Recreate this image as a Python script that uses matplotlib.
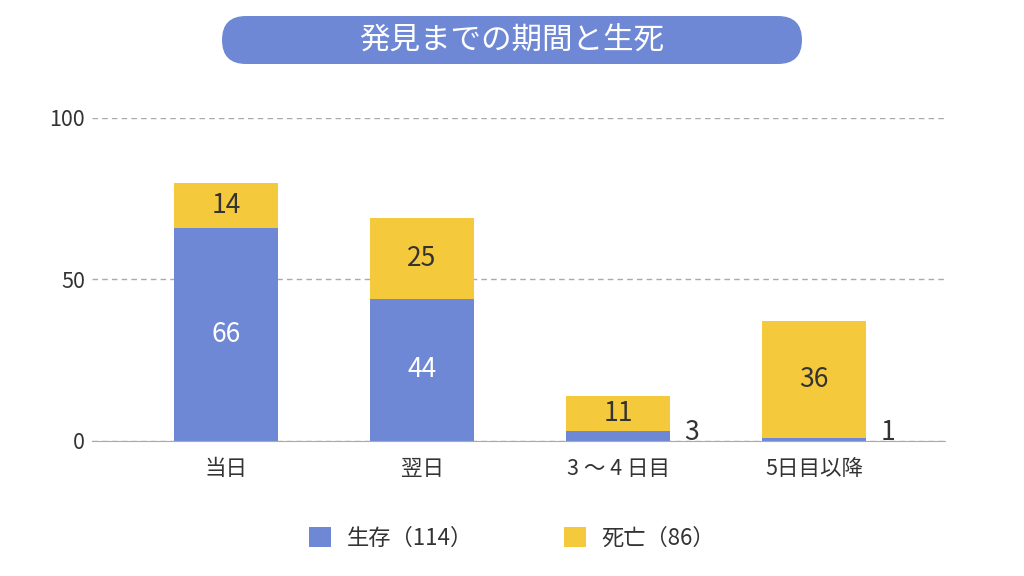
import matplotlib.pyplot as plt
from matplotlib.patches import FancyBboxPatch

plt.rcParams['font.family'] = ['Noto Sans CJK JP', 'DejaVu Sans']

# データ
categories = ['当日', '翌日', '3 ～ 4 日目', '5日目以降']
alive = [66, 44, 3, 1]
dead = [14, 25, 11, 36]
legend_labels = ['生存（114）', '死亡（86）']
title = '発見までの期間と生死'

blue = '#6f88d6'
yellow = '#f5c93c'
text_c = '#333333'

fig = plt.figure(figsize=(10.24, 5.76), dpi=100)

# 背景用（ピクセル座標）
bg = fig.add_axes([0, 0, 1, 1], zorder=0)
bg.set_xlim(0, 1024)
bg.set_ylim(576, 0)
bg.axis('off')
pill = FancyBboxPatch((222, 16), 580, 48, boxstyle='round,pad=0,rounding_size=24',
                      facecolor=blue, edgecolor='none')
bg.add_patch(pill)
bg.text(512, 41, title, ha='center', va='center', color='white', fontsize=22)

ax = fig.add_axes([0.0898, 0.2344, 0.8330, 0.5608], zorder=1)
ax.patch.set_alpha(0)

x = range(len(categories))
b1 = ax.bar(x, alive, width=0.53, color=blue, label=legend_labels[0], zorder=3)
b2 = ax.bar(x, dead, width=0.53, bottom=alive, color=yellow, label=legend_labels[1], zorder=3)

# 値ラベル
for i in x:
    a, d = alive[i], dead[i]
    if a >= 10:
        ax.text(i, a / 2, str(a), ha='center', va='center', color='white', fontsize=19, zorder=4)
    else:
        ax.text(i + 0.34, 0.4, str(a), ha='left', va='baseline', color=text_c, fontsize=19, zorder=4)
    ax.text(i, a + d / 2, str(d), ha='center', va='center', color=text_c, fontsize=19, zorder=4)

ax.set_xlim(-0.684, 3.668)
ax.set_ylim(0, 100)
ax.set_yticks([0, 50, 100])
ax.set_xticks(list(x))
ax.set_xticklabels(categories)
ax.tick_params(axis='both', length=0, labelsize=15.5, colors=text_c)
ax.tick_params(axis='x', pad=12)
ax.tick_params(axis='y', pad=5)
ax.yaxis.grid(True, ls=(0, (4, 3)), color='#aaaaaa', lw=1, zorder=0)
for s in ['top', 'right', 'left']:
    ax.spines[s].set_visible(False)
ax.spines['bottom'].set_color('#aaaaaa')
ax.spines['bottom'].set_zorder(5)

fig.legend(handles=[b1, b2], labels=legend_labels, loc='center', bbox_to_anchor=(0.5, 1 - 538 / 576),
           ncol=2, frameon=False, fontsize=16, handlelength=1.0, handleheight=1.0,
           columnspacing=4.1, handletextpad=0.7, labelcolor=text_c)

fig.savefig('out.png', dpi=100, facecolor='white')
